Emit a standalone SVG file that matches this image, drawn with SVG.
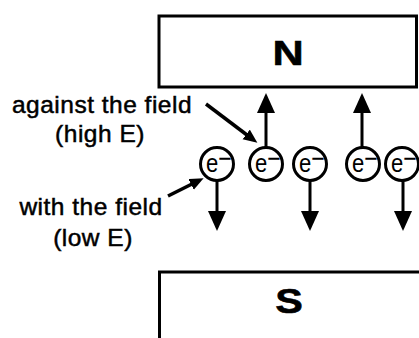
<svg xmlns="http://www.w3.org/2000/svg" width="419" height="338" viewBox="0 0 419 338">
  <style>
    .magnet { fill: #fff; stroke: #000; stroke-width: 3; }
    .pole { font-family: "Liberation Sans", Arial, sans-serif; font-weight: bold; font-size: 36px; fill: #000; stroke: #000; stroke-width: 0.6; text-anchor: middle; }
    .label { font-family: "Liberation Sans", Arial, sans-serif; font-size: 24.5px; letter-spacing: 0.5px; fill: #000; stroke: #000; stroke-width: 0.5; text-anchor: middle; }
    .shell { fill: #fff; stroke: #000; stroke-width: 3; }
    .sym { font-family: "Liberation Sans", Arial, sans-serif; font-size: 26px; fill: #000; }
    .minus { font-family: "Liberation Sans", Arial, sans-serif; font-size: 22px; fill: #000; stroke: #000; stroke-width: 0.4; }
    .spin { stroke: #000; stroke-width: 3; fill: none; marker-end: url(#head); }
    .pointer { stroke: #000; stroke-width: 3.5; fill: none; marker-end: url(#tip); }
  </style>
  <defs>
    <marker id="head" markerUnits="userSpaceOnUse" markerWidth="22" markerHeight="20" refX="0" refY="9" orient="auto">
      <path d="M0,0 L20,9 L0,18 Z" fill="#000"/>
    </marker>
    <marker id="tip" markerUnits="userSpaceOnUse" markerWidth="16" markerHeight="14" refX="1" refY="6" orient="auto">
      <path d="M0,0 L14,6 L0,12 Z" fill="#000"/>
    </marker>
  </defs>
  <rect width="419" height="338" fill="#fff"/>

  <!-- north pole -->
  <g id="north">
    <rect class="magnet" x="159" y="16" width="257.5" height="71"/>
    <text class="pole" transform="translate(288,65) scale(1.2,1)">N</text>
  </g>

  <!-- south pole, runs off the bottom and right -->
  <g id="south">
    <path class="magnet" d="M159.5,340 L159.5,272 L421,272" fill="none"/>
    <text class="pole" transform="translate(289,313) scale(1.15,1)">S</text>
  </g>

  <!-- captions -->
  <g id="label-against">
    <text class="label" x="102" y="113">against the field</text>
    <text class="label" x="100" y="142">(high E)</text>
  </g>
  <g id="label-with">
    <text class="label" x="91" y="215">with the field</text>
    <text class="label" x="93" y="246">(low E)</text>
  </g>

  <!-- arrows: spin orientation and caption pointers -->
  <g id="connectors">
    <line class="spin" x1="217" y1="148" x2="217" y2="211"/>
    <line class="spin" x1="266" y1="180" x2="266" y2="113"/>
    <line class="spin" x1="310" y1="148" x2="310" y2="211"/>
    <line class="spin" x1="362" y1="180" x2="362" y2="113"/>
    <line class="spin" x1="403" y1="148" x2="403" y2="211"/>
    <line class="pointer" x1="206" y1="104" x2="247" y2="135"/>
    <line class="pointer" x1="168" y1="196" x2="192" y2="184"/>
  </g>

  <!-- electrons -->
  <g id="electron-1" transform="translate(217,164)">
    <circle class="shell" r="16.5"/>
    <text class="sym" transform="scale(0.85,1)" x="-13" y="8">e</text><text class="minus" x="1.5" y="2">−</text>
  </g>
  <g id="electron-2" transform="translate(266,164)">
    <circle class="shell" r="16.5"/>
    <text class="sym" transform="scale(0.85,1)" x="-13" y="8">e</text><text class="minus" x="1.5" y="2">−</text>
  </g>
  <g id="electron-3" transform="translate(310,164)">
    <circle class="shell" r="16.5"/>
    <text class="sym" transform="scale(0.85,1)" x="-13" y="8">e</text><text class="minus" x="1.5" y="2">−</text>
  </g>
  <g id="electron-4" transform="translate(363,164)">
    <circle class="shell" r="16.5"/>
    <text class="sym" transform="scale(0.85,1)" x="-13" y="8">e</text><text class="minus" x="1.5" y="2">−</text>
  </g>
  <g id="electron-5" transform="translate(402,164)">
    <circle class="shell" r="16.5"/>
    <text class="sym" transform="scale(0.85,1)" x="-13" y="8">e</text><text class="minus" x="1.5" y="2">−</text>
  </g>
</svg>
